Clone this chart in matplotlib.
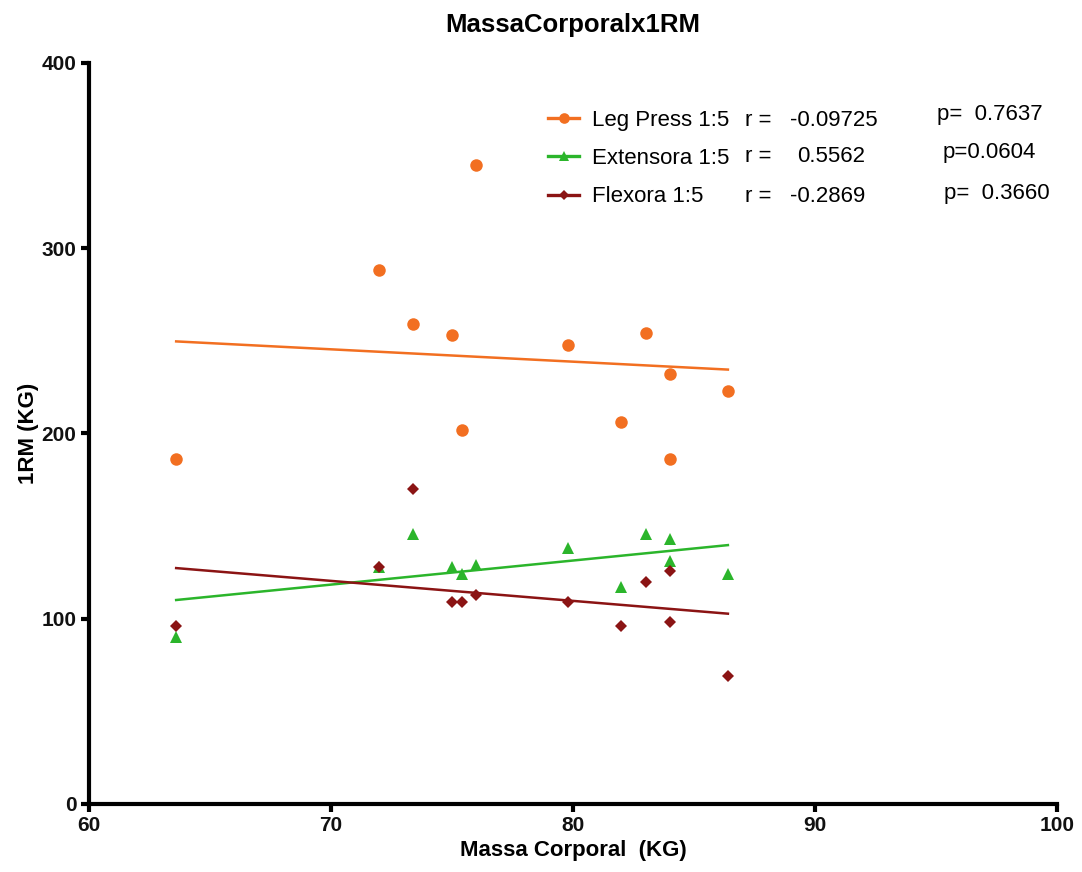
import numpy as np
import matplotlib
matplotlib.use("Agg")
import matplotlib.pyplot as plt
from matplotlib.lines import Line2D

plt.rcParams['font.family'] = ['Liberation Sans', 'DejaVu Sans']

# body mass (kg) of each subject
massa = [63.6, 72.0, 73.4, 75.0, 75.4, 76.0, 79.8, 82.0, 83.0, 84.0, 84.0, 86.4]
# 1RM values (kg)
leg_press = [186, 288, 259, 253, 202, 345, 248, 206, 254, 232, 186, 223]
extensora = [90, 128, 146, 128, 124, 129, 138, 117, 146, 143, 131, 124]
flexora = [96, 128, 170, 109, 109, 113, 109, 96, 120, 126, 98, 69]

series_names = ["Leg Press 1:5", "Extensora 1:5", "Flexora 1:5"]
r_values = ["-0.09725", "0.5562", "-0.2869"]
p_values = ["0.7637", "0.0604", "0.3660"]

colors = ["#f26f21", "#2bb52b", "#8b1414"]
markers = ["o", "^", "D"]
sizes = [9, 9, 6.5]

fig = plt.figure(figsize=(10.82, 8.72), dpi=100)
ax = fig.add_axes([0.0823, 0.078, 0.8946, 0.8498])

x = np.array(massa)
for ys, c, m, s in zip([leg_press, extensora, flexora], colors, markers, sizes):
    ax.plot(x, ys, linestyle="none", marker=m, color=c, markersize=s,
            markeredgewidth=0)
    slope, icpt = np.polyfit(x, ys, 1)
    xs = np.array([x.min(), x.max()])
    ax.plot(xs, slope * xs + icpt, color=c, linewidth=1.8)

ax.set_xlim(60, 100)
ax.set_ylim(0, 400)
ax.set_xticks([60, 70, 80, 90, 100])
ax.set_yticks([0, 100, 200, 300, 400])

for side in ["top", "right"]:
    ax.spines[side].set_visible(False)
for side in ["left", "bottom"]:
    ax.spines[side].set_linewidth(3)
ax.tick_params(width=3, length=6, direction="out", labelsize=15, pad=3)
for lab in ax.get_xticklabels() + ax.get_yticklabels():
    lab.set_fontweight("bold")
    lab.set_color("#111111")

ax.set_xlabel("Massa Corporal  (KG)", fontsize=16, fontweight="bold", labelpad=3)
ax.set_ylabel("1RM (KG)", fontsize=16, fontweight="bold", labelpad=2)
ax.set_title("MassaCorporalx1RM", fontsize=18.5, fontweight="bold", pad=22)

handles = [Line2D([0], [0], color=c, marker=m, markersize=s * 0.85, linewidth=2.4,
                  markeredgewidth=0)
           for c, m, s in zip(colors, markers, sizes)]
leg = ax.legend(handles, series_names, loc="upper left",
                bbox_to_anchor=(0.465, 0.949), frameon=False, fontsize=16,
                handlelength=1.4, handletextpad=0.6, labelspacing=0.78,
                borderaxespad=0, borderpad=0.4)

row_y = [0.923, 0.874, 0.820]
val_x = [0.724, 0.732, 0.724]
p_x = [0.876, 0.882, 0.883]
p_y = [0.930, 0.879, 0.824]
p_text = ["p=  " + p_values[0], "p=" + p_values[1], "p=  " + p_values[2]]
for i in range(3):
    ax.text(0.678, row_y[i], "r =", transform=ax.transAxes, fontsize=16,
            va="center")
    ax.text(val_x[i], row_y[i], r_values[i], transform=ax.transAxes,
            fontsize=16, va="center")
    ax.text(p_x[i], p_y[i], p_text[i], transform=ax.transAxes, fontsize=16,
            va="center")

fig.savefig("out.png", dpi=100)
